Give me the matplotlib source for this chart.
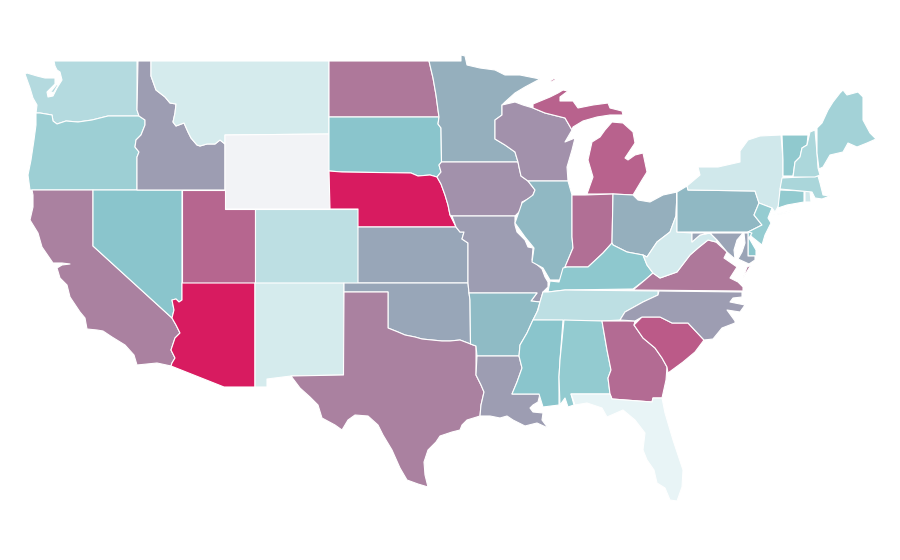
import numpy as np
import matplotlib
matplotlib.use("Agg")
import matplotlib.pyplot as plt
from matplotlib.collections import PolyCollection
from matplotlib.colors import LinearSegmentedColormap, Normalize

# state values (Wyoming has no data)
states = ["WA","OR","CA","NV","ID","MT","WY","UT","CO","AZ","NM","ND","SD","NE","KS","OK","TX",
          "MN","IA","MO","AR","LA","WI","IL","MI","IN","OH","KY","TN","MS","AL","GA","FL","SC","NC",
          "VA","WV","PA","NY","NJ","DE","MD","CT","RI","MA","VT","NH","ME"]
values = [28,40,70,50,62,10.5,np.nan,78,23,100,10.5,73,50,100,59,59,70,
          57,65.5,62,53.5,62,65.5,54,79,75,57,48,23,50,45,76.5,0,81.5,62,
          73,11,54,13,44,50,60,46,13,33,47,32,37]

# outlines in picture coordinates
outlines = {
"WA":[[(54,61),(137,61),(137,110),(139,116),(108,116),(92,120),(78,122),(66,121),(57,124),(53,121),(52,115),(40,113),(36,113),(37,105),(33,98),(30,88),(25,74),(27,73),(37,76),(45,78),(55,78),(55,84),(47,92),(48,97),(53,96),(57,88),(62,80),(60,72),(57,70),(55,66)],
      [(50,93),(53,89),(57,84),(58,85),(54,92)]],
"OR":[[(36,113),(40,113),(52,115),(53,121),(57,124),(66,121),(78,122),(92,120),(108,116),(139,116),(145,120),(145,125),(141,135),(136,140),(135,147),(139,152),(137,157),(137,190),(30,190),(28,175),(31,160),(34,140),(36,125)]],
"CA":[[(32,190),(93,190),(93,246),(172,318),(176,325),(180,333),(175,338),(171,350),(175,358),(172,363),(171,366),(157,363),(137,365),(134,355),(125,345),(112,337),(103,331),(97,330),(87,329),(85,318),(80,312),(70,297),(67,285),(60,278),(57,268),(62,265),(70,264),(62,263),(53,263),(42,247),(38,233),(30,220),(33,207),(33,195)]],
"NV":[[(93,190),(182,190),(182,300),(179,302),(176,299),(172,300),(174,310),(172,318),(93,246)]],
"ID":[[(138,61),(151,61),(151,76),(156,90),(165,97),(170,103),(176,104),(175,113),(173,122),(176,126),(184,123),(188,132),(191,138),(197,145),(200,146),(207,144),(215,144),(220,140),(225,144),(225,190),(137,190),(137,157),(139,152),(135,147),(136,140),(141,135),(145,125),(145,120),(139,116),(137,110)]],
"MT":[[(151,61),(329,61),(329,134),(225,135),(225,144),(220,140),(215,144),(207,144),(200,146),(197,145),(191,138),(188,132),(184,123),(176,126),(173,122),(175,113),(176,104),(170,103),(165,97),(156,90),(151,76)]],
"WY":[[(225,135),(329,134),(330,209),(225,209)]],
"UT":[[(182,190),(225,190),(225,209),(255,209),(255,283),(182,283)]],
"CO":[[(255,209),(358,209),(358,283),(255,283)]],
"AZ":[[(182,283),(255,283),(255,387),(224,387),(171,366),(172,363),(175,358),(171,350),(175,338),(180,333),(176,325),(172,318),(174,310),(172,300),(176,299),(179,302),(182,300)]],
"NM":[[(255,283),(344,283),(344,343),(343.5,375),(291,376),(267,379),(267,387),(255,387)]],
"ND":[[(329,61),(429,61),(433,78),(436,95),(438,110),(439,117),(329,117)]],
"SD":[[(329,117),(439,117),(438,124),(441,128),(441.5,162),(439,165),(441,172),(437,177),(430,175),(418,176),(411,173),(342,172),(329,171)]],
"NE":[[(329,171),(342,172),(411,173),(418,176),(430,175),(437,177),(441,184),(445,195),(448,205),(450,215),(456,227),(358,227),(358,209),(330,209)]],
"KS":[[(358,227),(456,227),(460,232),(464,232),(462,239),(468,243),(468,283),(358,283)]],
"OK":[[(344,283),(468,283),(469,293),(470,300),(470.5,344),(460,340),(450,341),(442,341),(432,340),(422,339),(415,337),(405,335),(398,332),(388,328),(388,292),(344,292)]],
"TX":[[(344,292),(388,292),(388,328),(398,332),(405,335),(415,337),(422,339),(432,340),(442,341),(450,341),(460,340),(470.5,344),(476,346),(476,375),(481,385),(484,392),(481,405),(480,416),(467,420),(462,425),(460,430),(452,432),(440,436),(436,442),(428,450),(424,462),(425,475),(428,487),(418,484),(407,480),(400,468),(392,450),(383,435),(378,425),(368,416),(355,415),(348,420),(342,430),(335,425),(322,418),(318,405),(310,397),(300,388),(291,376),(343.5,375)]],
"MN":[[(429,61),(461,61),(461,55),(465,56),(467,65),(480,68),(495,70),(505,75),(520,75),(540,79),(525,87),(515,93),(505,102),(502,105),(502,115),(495,120),(495,127),(495,139),(505,145),(515,152),(518,162),(441.5,162),(441,128),(438,124),(439,117),(438,110),(436,95),(433,78)]],
"IA":[[(441.5,162),(518,162),(519,167),(521,176),(528,181),(535,190),(532,197),(522,202),(521,210),(515,216),(452,216),(450,215),(448,205),(445,195),(441,184),(437,177),(441,172),(439,165)]],
"MO":[[(452,216),(515,216),(515,225),(517,232),(525,240),(528,247),(533,248),(532,260),(542,269),(545,277),(548,282),(548,287),(543,292),(540,302),(531,301),(537,293),(469,293),(468,283),(468,243),(462,239),(464,232),(460,232),(456,227)]],
"AR":[[(469,293),(537,293),(531,301),(540,302),(537,312),(532,322),(527,333),(520,345),(519,356),(477,356),(476,346),(470.5,344),(470,300)]],
"LA":[[(477,356),(519,356),(522,368),(517,382),(512,394),(540,394),(538,402),(533,405),(530,408),(533,412),(543,413),(542,420),(548,428),(537,423),(525,426),(513,420),(507,416),(500,418),(490,416),(480,416),(481,405),(484,392),(481,385),(476,375)]],
"WI":[[(502,105),(515,102),(523,105),(533,108),(545,113),(565,118),(572,130),(565,142),(575,138),(572,150),(567,167),(568,181),(528,181),(521,176),(519,167),(518,162),(515,152),(505,145),(495,139),(495,127),(495,120),(502,115)]],
"IL":[[(528,181),(568,181),(572,195),(572,237),(573,248),(565,267),(560,280),(550,280),(543,268),(532,262),(534,248),(525,237),(515,223),(522,203),(533,195),(535,190)]],
"MI":[[(533,104),(550,97),(558,93),(563,90),(568,91),(560,97),(560,101),(573,101),(578,108),(593,105),(608,103),(610,108),(622,111),(623,115),(610,115),(597,117),(583,121),(573,127),(572,130),(565,118),(545,113),(533,108)],
      [(612,122),(623,123),(633,132),(635,143),(625,158),(628,160),(635,155),(643,153),(647,172),(642,180),(633,195),(613,194),(587,194),(593,177),(588,160),(592,142),(600,137),(605,130)],
      [(550,81),(555,78),(555,80),(551,82)]],
"IN":[[(572,195),(585,195),(613,194),(612,243),(603,253),(588,267),(567,267),(565,267),(573,248),(572,237)]],
"OH":[[(613,194),(633,195),(638,200),(650,202),(663,195),(677,192),(676,216),(670,232),(657,242),(647,257),(643,255),(627,252),(613,245),(612,243)]],
"KY":[[(548,292),(550,281),(559,282),(563,268),(567,267),(588,267),(603,253),(612,243),(613,245),(627,252),(643,255),(647,265),(653,273),(645,280),(633,289),(565,290)]],
"TN":[[(543,292),(548,292),(565,290),(658,291),(658,295),(643,302),(625,312),(620,320),(602,321),(533,320),(538,310),(540,302)]],
"MS":[[(533,320),(563,320),(560,360),(559,377),(559,405),(543,407),(539,394),(512,394),(517,382),(522,368),(519,356),(520,345),(527,333),(532,322)]],
"AL":[[(564,320),(602,321),(607,350),(611,370),(608,378),(610,394),(571,394),(574,405),(568,407),(565,398),(560,405),(559,377),(560,360)]],
"GA":[[(602,321),(635,321),(634,325),(643,338),(655,348),(662,358),(667,367),(666,380),(662,398),(653,398),(652,402),(612,399),(610,394),(608,378),(611,370),(607,350)]],
"FL":[[(571,394),(610,394),(612,399),(652,402),(653,398),(662,398),(665,413),(673,440),(683,470),(682,487),(677,501),(670,500),(665,488),(657,483),(654,470),(647,460),(643,450),(645,433),(635,420),(623,410),(607,417),(602,408),(587,403),(575,405)]],
"SC":[[(634,325),(642,317),(660,317),(672,323),(688,323),(704,340),(695,352),(683,362),(668,373),(667,367),(662,358),(655,348),(643,338)]],
"NC":[[(620,320),(635,321),(642,317),(660,317),(672,323),(688,323),(704,340),(713,339),(722,328),(735,323),(735,321),(727,310),(740,312),(745,305),(730,302),(733,298),(742,297),(742,292),(659,291),(658,295),(643,302),(625,312)]],
"VA":[[(633,290),(645,280),(653,273),(660,278),(677,272),(690,255),(698,248),(708,240),(716,242),(727,252),(724,258),(737,267),(730,278),(738,282),(743,287),(743,291)],
      [(751,265),(747,267),(743,278)]],
"WV":[[(677,192),(677,232),(692,233),(692,242),(700,235),(710,233),(717,240),(716,242),(708,240),(698,248),(690,255),(677,272),(660,278),(653,273),(647,265),(643,255),(647,257),(657,242),(670,232),(676,216)]],
"PA":[[(677,192),(687,186),(688,190),(755,191),(759,203),(754,215),(762,225),(748,232),(677,232)]],
"NY":[[(688,190),(687,186),(700,175),(698,167),(718,167),(740,162),(740,151),(748,140),(760,136),(781,135),(783,160),(783,177),(780,190),(779,205),(775,212),(772,208),(759,203),(755,191)],
      [(773,215),(802,208),(790,212),(778,215)]],
"NJ":[[(759,203),(772,208),(768,218),(771,223),(765,235),(762,245),(752,237),(748,232),(762,225),(754,215)]],
"DE":[[(748,232),(752,233),(749,238),(756,250),(756,256),(748,256)]],
"MD":[[(692,233),(743,233),(737,240),(734,250),(735,259),(727,252),(717,240),(710,233),(700,235),(692,242)],
      [(744,233),(748,233),(748,256),(755,256),(755,260),(749,264),(738,259),(742,252),(745,243)]],
"CT":[[(780,190),(804,191),(804,202),(787,205),(778,208)]],
"RI":[[(805,191),(810,191),(811,202),(805,202)]],
"MA":[[(782,178),(818,176),(820,183),(823,195),(830,196),(822,199),(815,198),(812,192),(780,189)]],
"VT":[[(782,135),(808,135),(807,145),(802,148),(800,157),(795,162),(793,176),(783,176),(783,160)]],
"NH":[[(810,132),(815,130),(817,153),(818,168),(820,175),(815,177),(793,177),(795,162),(800,157),(802,148),(807,145)]],
"ME":[[(817,128),(822,123),(828,110),(833,102),(840,93),(843,90),(847,95),(858,92),(863,97),(863,120),(870,133),(876,139),(867,143),(857,147),(848,143),(843,152),(830,155),(823,167),(819,169),(817,153)]],
}

cmap = LinearSegmentedColormap.from_list("rate", ["#e8f4f6", "#8ac6cc", "#d81b60"])
cmap.set_bad("#f2f3f6")
norm = Normalize(0, 100)

verts, arr = [], []
for s, v in zip(states, values):
    for ring in outlines[s]:
        verts.append(ring)
        arr.append(v)

fig = plt.figure(figsize=(9, 5.6), dpi=100, facecolor="white")
ax = fig.add_axes([0, 0, 1, 1])
ax.set_xlim(0, 900)
ax.set_ylim(560, 0)
ax.axis("off")
pc = PolyCollection(verts, array=np.ma.masked_invalid(arr), cmap=cmap, norm=norm,
                    edgecolors="white", linewidths=0.8)
ax.add_collection(pc)
fig.savefig("out.png", dpi=100, facecolor="white")
